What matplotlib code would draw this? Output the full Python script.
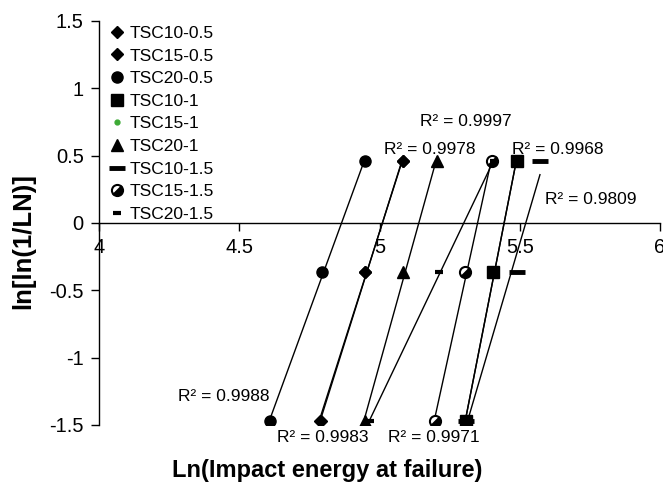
import matplotlib
matplotlib.use("Agg")
import matplotlib.pyplot as plt
from matplotlib.markers import MarkerStyle
from matplotlib.transforms import Affine2D
import numpy as np

plt.rcParams['font.family'] = ['Liberation Sans', 'DejaVu Sans']
plt.rcParams['axes.unicode_minus'] = False

# ln[ln(1/LN)] levels (median ranks, 3 specimens)
y_rank = [-1.467, -0.367, 0.458]

# Ln(impact energy at failure) per mix
tsc10_05 = [4.788, 4.948, 5.084]
tsc15_05 = [4.791, 4.950, 5.082]
tsc20_05 = [4.610, 4.795, 4.948]
tsc10_1 = [5.308, 5.405, 5.490]
tsc15_1 = [5.308, 5.405, 5.490]
tsc20_1 = [4.948, 5.084, 5.205]
tsc10_15 = [5.308, 5.490, 5.572]
tsc15_15 = [5.198, 5.305, 5.401]
tsc20_15 = [4.966, 5.212, 5.408]

names = ["TSC10-0.5", "TSC15-0.5", "TSC20-0.5", "TSC10-1", "TSC15-1",
         "TSC20-1", "TSC10-1.5", "TSC15-1.5", "TSC20-1.5"]

# R² labels of the trendlines and where Excel put them
r2_values = ["0.9997", "0.9978", "0.9968", "0.9809", "0.9988", "0.9983", "0.9971"]
r2_pos = [(5.308, 0.750), (5.180, 0.542), (5.636, 0.542), (5.754, 0.171),
          (4.446, -1.292), (4.799, -1.596), (5.194, -1.596)]

half_circle = MarkerStyle('o', fillstyle='bottom', transform=Affine2D().rotate_deg(45))

styles = {
    "TSC10-0.5": dict(marker='D', ms=6, mfc='black', mec='black'),
    "TSC15-0.5": dict(marker='D', ms=6, mfc='black', mec='black'),
    "TSC20-0.5": dict(marker='o', ms=8, mfc='black', mec='black'),
    "TSC10-1": dict(marker='s', ms=8, mfc='black', mec='black'),
    "TSC15-1": dict(marker='o', ms=3.5, mfc='#3DAA35', mec='#3DAA35'),
    "TSC20-1": dict(marker='^', ms=8.5, mfc='black', mec='black'),
    "TSC10-1.5": dict(marker='_', ms=12, mew=3.5, mec='black'),
    "TSC15-1.5": dict(marker=half_circle, ms=8, mfc='black', mfcalt='white', mec='black', mew=1.5),
    "TSC20-1.5": dict(marker='_', ms=6, mew=3, mec='black'),
}

data = [tsc10_05, tsc15_05, tsc20_05, tsc10_1, tsc15_1,
        tsc20_1, tsc10_15, tsc15_15, tsc20_15]

fig = plt.figure(figsize=(6.63, 4.88), dpi=100)
ax = fig.add_axes([0.1493, 0.1291, 0.8462, 0.828])

handles = []
for name, xs in zip(names, data):
    z = 2 if name == "TSC15-1" else 3
    # linear trendline over the x range of the series
    k, b = np.polyfit(xs, y_rank, 1)
    xl = np.array([min(xs), max(xs)])
    ax.plot(xl, k * xl + b, color='black', lw=1.0, zorder=z)
    h, = ax.plot(xs, y_rank, linestyle='none', label=name, zorder=z + 1, **styles[name])
    handles.append(h)

for txt, (tx, ty) in zip(r2_values, r2_pos):
    ax.text(tx, ty, "R² = " + txt, fontsize=12.5, ha='center', va='center')

ax.set_xlim(4, 6)
ax.set_ylim(-1.5, 1.5)
ax.set_xticks([4, 4.5, 5, 5.5, 6])
ax.set_xticklabels(["4", "4.5", "5", "5.5", "6"])
ax.set_yticks([-1.5, -1, -0.5, 0, 0.5, 1, 1.5])
ax.set_yticklabels(["-1.5", "-1", "-0.5", "0", "0.5", "1", "1.5"])
ax.spines['top'].set_visible(False)
ax.spines['right'].set_visible(False)
ax.spines['bottom'].set_position(('data', 0))
ax.tick_params(axis='both', direction='out', length=6, width=1, labelsize=14.5, pad=5)
for sp in ax.spines.values():
    sp.set_linewidth(1)

ax.legend(handles=handles, loc='upper left', bbox_to_anchor=(0.02, 0.988),
          frameon=False, fontsize=12.5, handlelength=0.8, handletextpad=0.3,
          labelspacing=0.43, borderpad=0, borderaxespad=0, numpoints=1)

fig.text(327 / 663, 1 - 470 / 488, "Ln(Impact energy at failure)", fontsize=17,
         fontweight='bold', ha='center', va='center')
fig.text(23 / 663, 1 - 241 / 488, "ln[ln(1/LN)]", fontsize=18.5, fontweight='bold',
         rotation=90, ha='center', va='center')

fig.savefig("out.png", dpi=100)
